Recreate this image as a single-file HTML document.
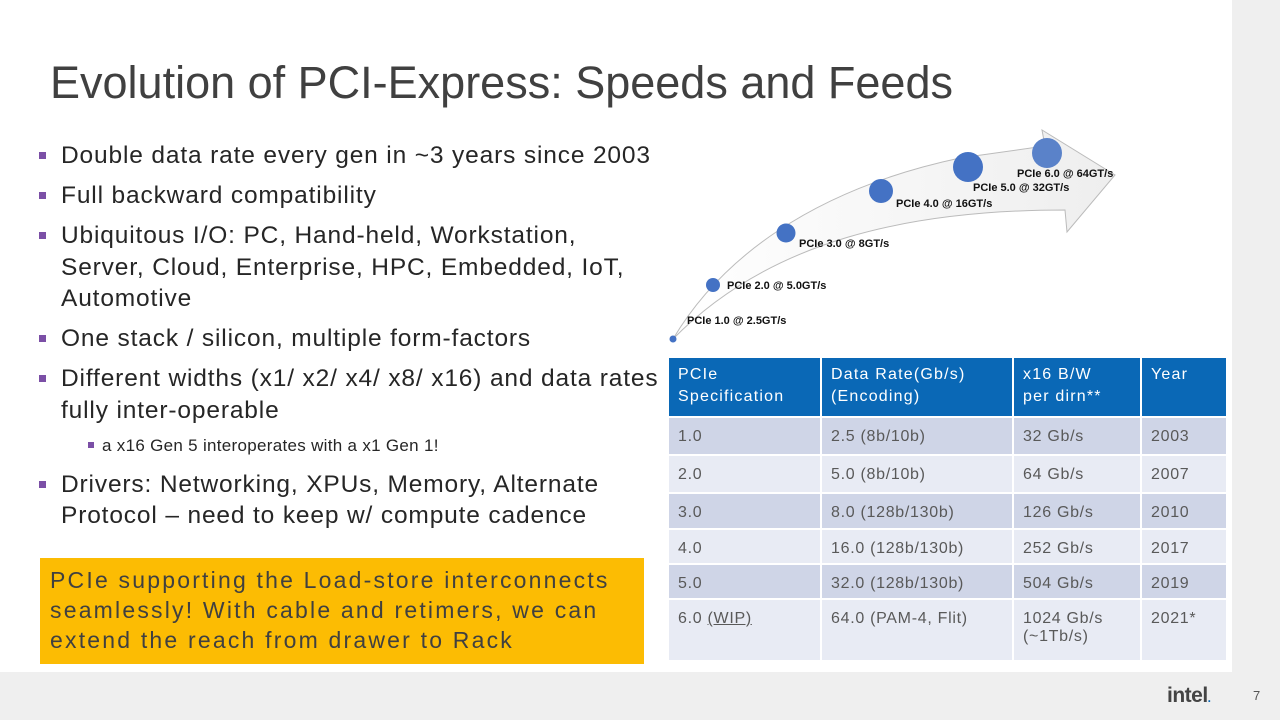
<!DOCTYPE html>
<html><head><meta charset="utf-8"><style>
body{margin:0;width:1280px;height:720px;position:relative;background:#fff;overflow:hidden;font-family:"Liberation Sans",sans-serif}
.abs{position:absolute}
h1{position:absolute;left:50px;top:57px;margin:0;font-weight:normal;font-size:45px;color:#404040;letter-spacing:0px}
ul{position:absolute;left:36px;top:140px;margin:0;padding:0;list-style:none;font-size:24.5px;color:#262626;width:626px;letter-spacing:0.85px}
li{position:relative;padding-left:25px;line-height:31.5px;margin-bottom:8.5px}
li:before{content:"";position:absolute;left:3px;top:12px;width:7px;height:7px;background:#7b4fa6}
li.sub{font-size:17px;padding-left:50px;margin-top:4px;margin-bottom:7px;letter-spacing:0.3px}
li.sub:before{left:52px;width:6px;height:6px;top:12px}
li.sub span{padding-left:16px}
table{position:absolute;left:667px;top:358px;border-collapse:collapse;font-size:16px;color:#595959;table-layout:fixed;width:559px;letter-spacing:0.7px}
td{border:2px solid #fff;padding:10px 4px 0 9px;vertical-align:top}
th{background:#0a68b6;color:#fff;font-weight:normal;text-align:left;vertical-align:top;padding:6px 4px 0 9px;border:2px solid #fff;border-top:none;line-height:22px;font-size:16px;letter-spacing:1.2px}
tr.d td{background:#cfd5e7}
tr.l td{background:#e8ebf4}
</style></head><body>
<div class="abs" style="left:1232px;top:0;width:48px;height:720px;background:#efefef"></div>
<div class="abs" style="left:0;top:672px;width:1280px;height:48px;background:#efefef"></div>
<h1>Evolution of PCI-Express: Speeds and Feeds</h1>
<ul>
<li>Double data rate every gen in ~3 years since 2003</li>
<li>Full backward compatibility</li>
<li>Ubiquitous I/O: PC, Hand-held, Workstation, Server, Cloud, Enterprise, HPC, Embedded, IoT, Automotive</li>
<li>One stack / silicon, multiple form-factors</li>
<li style="margin-bottom:2px">Different widths (x1/ x2/ x4/ x8/ x16) and data rates fully inter-operable</li>
<li class="sub"><span>a x16 Gen 5 interoperates with a x1 Gen 1!</span></li>
<li>Drivers: Networking, XPUs, Memory, Alternate Protocol – need to keep w/ compute cadence</li>
</ul>
<div class="abs" style="left:40px;top:558px;width:604px;height:106px;background:#fcbc03;color:#404040;font-size:23px;line-height:30px;padding:7px 10px;box-sizing:border-box;letter-spacing:2.2px">PCIe supporting the Load-store interconnects seamlessly! With cable and retimers, we can extend the reach from drawer to Rack</div>
<svg class="abs" style="left:660px;top:120px" width="480" height="240">
<defs><linearGradient id="g" x1="0" y1="0" x2="1" y2="0"><stop offset="0" stop-color="#fff"/><stop offset="1" stop-color="#eee"/></linearGradient></defs>
<path d="M13,219 C60,140 150,70 300,38 L385,26 L382,10 L455,55 L407,112 L405,90 C250,90 110,120 13,219 Z" fill="url(#g)" stroke="#bbb" stroke-width="1"/>
<g fill="#4472c4">
<circle cx="13" cy="219" r="3.5"/><circle cx="53" cy="165" r="7"/><circle cx="126" cy="113" r="9.5"/>
<circle cx="221" cy="71" r="12"/><circle cx="308" cy="47" r="15"/><circle cx="387" cy="33" r="15" fill="#5a82c9"/>
</g>
<g font-family="Liberation Sans" font-weight="bold" font-size="11" fill="#111">
<text x="27" y="204">PCIe 1.0 @ 2.5GT/s</text><text x="67" y="169">PCIe 2.0 @ 5.0GT/s</text>
<text x="139" y="127">PCIe 3.0 @ 8GT/s</text><text x="236" y="87">PCIe 4.0 @ 16GT/s</text>
<text x="313" y="71">PCIe 5.0 @ 32GT/s</text><text x="357" y="57">PCIe 6.0 @ 64GT/s</text>
</g></svg>
<table>
<colgroup><col style="width:153px"><col style="width:192px"><col style="width:128px"><col style="width:86px"></colgroup>
<tr style="height:59px"><th>PCIe<br>Specification</th><th>Data Rate(Gb/s)<br>(Encoding)</th><th>x16 B/W<br>per dirn**</th><th>Year</th></tr>
<tr class="d" style="height:38px"><td>1.0</td><td>2.5 (8b/10b)</td><td>32 Gb/s</td><td>2003</td></tr>
<tr class="l" style="height:38px"><td>2.0</td><td>5.0 (8b/10b)</td><td>64 Gb/s</td><td>2007</td></tr>
<tr class="d" style="height:36px"><td>3.0</td><td>8.0 (128b/130b)</td><td>126 Gb/s</td><td>2010</td></tr>
<tr class="l" style="height:35px"><td>4.0</td><td>16.0 (128b/130b)</td><td>252 Gb/s</td><td>2017</td></tr>
<tr class="d" style="height:35px"><td>5.0</td><td>32.0 (128b/130b)</td><td>504 Gb/s</td><td>2019</td></tr>
<tr class="l" style="height:62px"><td>6.0 <u>(WIP)</u></td><td>64.0 (PAM-4, Flit)</td><td>1024 Gb/s<br>(~1Tb/s)</td><td>2021*</td></tr>
</table>
<div class="abs" style="left:1167px;top:684px;font-size:21px;font-weight:bold;color:#444;letter-spacing:-0.5px">intel<span style="color:#0a68b6;font-size:12px">.</span></div>
<div class="abs" style="left:1253px;top:688px;font-size:13px;color:#555">7</div>
</body></html>
